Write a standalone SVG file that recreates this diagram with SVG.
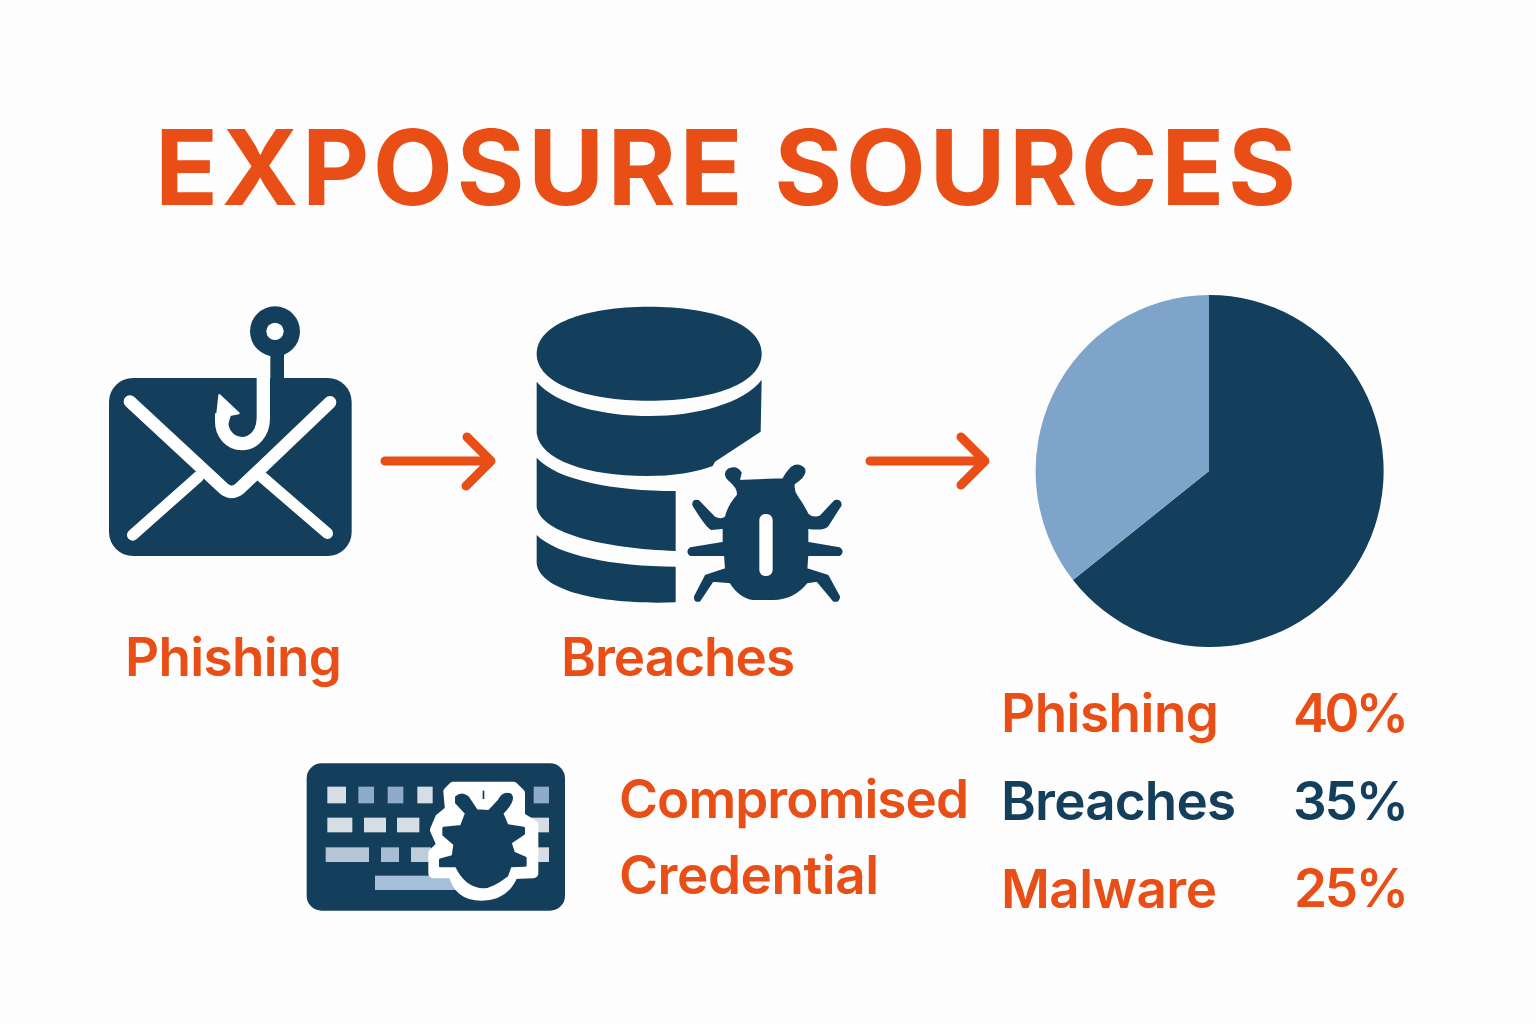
<svg xmlns="http://www.w3.org/2000/svg" width="1536" height="1024" viewBox="0 0 1536 1024">
<style>
.t{font-family:"Inter","Liberation Sans",sans-serif;font-weight:560;font-size:53px;fill:#E84E15}
.d{fill:#133F5C}
.s{fill:#133F5C;stroke:#133F5C;stroke-width:8;stroke-linejoin:round}
.w{fill:none;stroke:#fff;stroke-linecap:round;stroke-linejoin:round}
.a{fill:none;stroke:#E84E15;stroke-width:9;stroke-linecap:round;stroke-linejoin:round}
.kl{fill:#D6DDE5}
.kb{fill:#90ABC9}
</style>
<rect width="1536" height="1024" fill="#FDFDFD"/>
<g id="title"><text x="155" y="205" class="t" style="font-size:104px;font-weight:680" textLength="1141">EXPOSURE SOURCES</text></g>
<g id="phishing-node">
<g transform="translate(90 290) scale(.33333)">
<rect x="57" y="264" width="728" height="534" rx="72" class="d"/>
<circle cx="555" cy="124" r="75" class="d"/>
<circle cx="555" cy="124" r="26" fill="#fff"/>
<rect x="541" y="180" width="41" height="100" class="d"/>
<path class="w" stroke-width="38" d="M120,335 L395,590 Q425,622 455,590 L720,337"/>
<path class="w" stroke-width="34" d="M325,560 L128,735"/>
<path class="w" stroke-width="34" d="M515,560 L712,730"/>
<path fill="none" stroke="#fff" stroke-width="40" d="M520,262 L520,385 C520,430 490,461 456,461 C420,461 395,430 395,395 L395,370"/>
<path fill="#fff" stroke="#fff" stroke-width="6" stroke-linejoin="round" d="M388,315 L446,370 L420,375 L412,400 L378,395 L382,370 Z"/>
</g>
<text x="125" y="676" class="t" textLength="217">Phishing</text>
</g>
<g id="breaches-node">
<g transform="translate(520 290) scale(.33333)">
<path class="d" d="M50,191 C50,102 195,50 387,50 C580,50 725,102 725,191 C725,280 580,332 387,332 C195,332 50,280 50,191 Z"/>
<path class="d" d="M50,275 C110,345 250,378 390,378 C530,378 670,340 725,270 L722,425 L585,515 L578,528 Q500,558 380,558 C200,558 60,510 50,430 Z"/>
<path class="d" d="M50,503 C110,570 280,603 467,603 L467,783 C250,775 60,730 50,650 Z"/>
<path class="d" d="M50,735 C110,795 280,830 467,830 L467,937 C250,945 60,905 50,820 Z"/>
<path class="s" d="M655,574 L790,569 Q800,550 815,534 Q835,520 851,537 Q860,555 821,580 Q816,600 831,622 Q851,650 862,674 Q880,690 902,680 L945,634 Q961,630 961,645 L922,706 Q910,720 861,712 L861,759 L958,776 Q970,785 958,794 L861,794 L858,838 L922,858 L956,920 Q956,934 942,931 L892,871 L860,876 Q820,926 760,926 L700,926 Q660,921 632,876 L578,871 L538,931 Q524,934 526,920 L558,858 L619,838 L616,794 L512,794 Q500,785 512,776 L612,759 L612,712 L575,716 Q562,712 521,645 Q519,630 535,634 L583,684 Q605,694 619,682 Q624,652 654,617 Q659,595 629,570 Q609,552 627,539 Q650,530 661,549 Z"/>
<rect x="718" y="672" width="40" height="186" rx="18" fill="#fff"/>
</g>
<text x="561" y="676" class="t" textLength="234">Breaches</text>
</g>
<g id="pie-node">
<path d="M1209,471 L1209,295 A174,176 0 1 1 1073,580 Z" fill="#133F5C"/>
<path d="M1209,471 L1073,580 A174,176 0 0 1 1209,295 Z" fill="#7FA4C9"/>
</g>
<g id="keyboard-node">
<g transform="translate(295 750) scale(.33333)">
<rect x="35" y="40" width="775" height="442" rx="45" class="d"/>
<rect class="kl" x="97" y="110" width="56" height="50"/>
<rect class="kb" x="190" y="110" width="47" height="50"/>
<rect class="kb" x="278" y="110" width="47" height="50"/>
<rect class="kl" x="367" y="110" width="46" height="50"/>
<rect class="kb" x="716" y="110" width="46" height="50"/>
<rect class="kl" x="97" y="203" width="75" height="44"/>
<rect class="kl" x="207" y="203" width="66" height="44"/>
<rect class="kl" x="306" y="203" width="67" height="44"/>
<rect class="kl" x="700" y="203" width="62" height="44"/>
<rect fill="#B5C5D6" x="92" y="292" width="130" height="44"/>
<rect fill="#A6BDD4" x="258" y="292" width="54" height="44"/>
<rect fill="#BFCDDB" x="348" y="292" width="60" height="44"/>
<rect class="kl" x="700" y="292" width="62" height="44"/>
<rect fill="#A6BFD9" x="240" y="377" width="260" height="43"/>
<path fill="#fff" stroke="#fff" stroke-width="30" stroke-linejoin="round" d="M460,125 L475,110 L655,110 L675,130 L675,200 L715,225 L715,370 L655,372 Q630,437 560,437 Q490,437 475,370 L415,370 L415,310 L440,285 L420,240 L435,205 L465,180 Z"/>
<path class="s" d="M484,142 Q500,128 518,142 L545,182 L582,184 L612,152 Q625,126 646,134 Q661,150 621,190 L636,226 L686,234 L686,251 L646,278 L656,309 L691,324 L691,346 L646,348 L636,376 Q590,411 565,411 Q520,408 494,366 L484,348 L436,348 L436,329 L474,319 L479,283 L446,254 L446,234 L499,229 L514,190 L484,158 Z"/>
<rect x="563" y="122" width="5" height="25" class="d"/>
</g>
<text x="619" y="818" class="t" textLength="350">Compromised</text>
<text x="619" y="894" class="t" textLength="260">Credential</text>
</g>
<g id="legend">
<text x="1001" y="732" class="t" textLength="218">Phishing</text>
<text x="1293" y="732" class="t" textLength="116">40%</text>
<text x="1001" y="820" class="t" style="fill:#133F5C" textLength="235">Breaches</text>
<text x="1293" y="820" class="t" style="fill:#133F5C" textLength="116">35%</text>
<text x="1001" y="908" class="t" textLength="216">Malware</text>
<text x="1294" y="907" class="t" textLength="115">25%</text>
</g>
<g id="connectors">
<path class="a" d="M385,461 L489,461 M467,437 L491,461 L466,486"/>
<path class="a" d="M870,461 L984,461 M961,437 L985,461 L961,485"/>
</g>
</svg>
